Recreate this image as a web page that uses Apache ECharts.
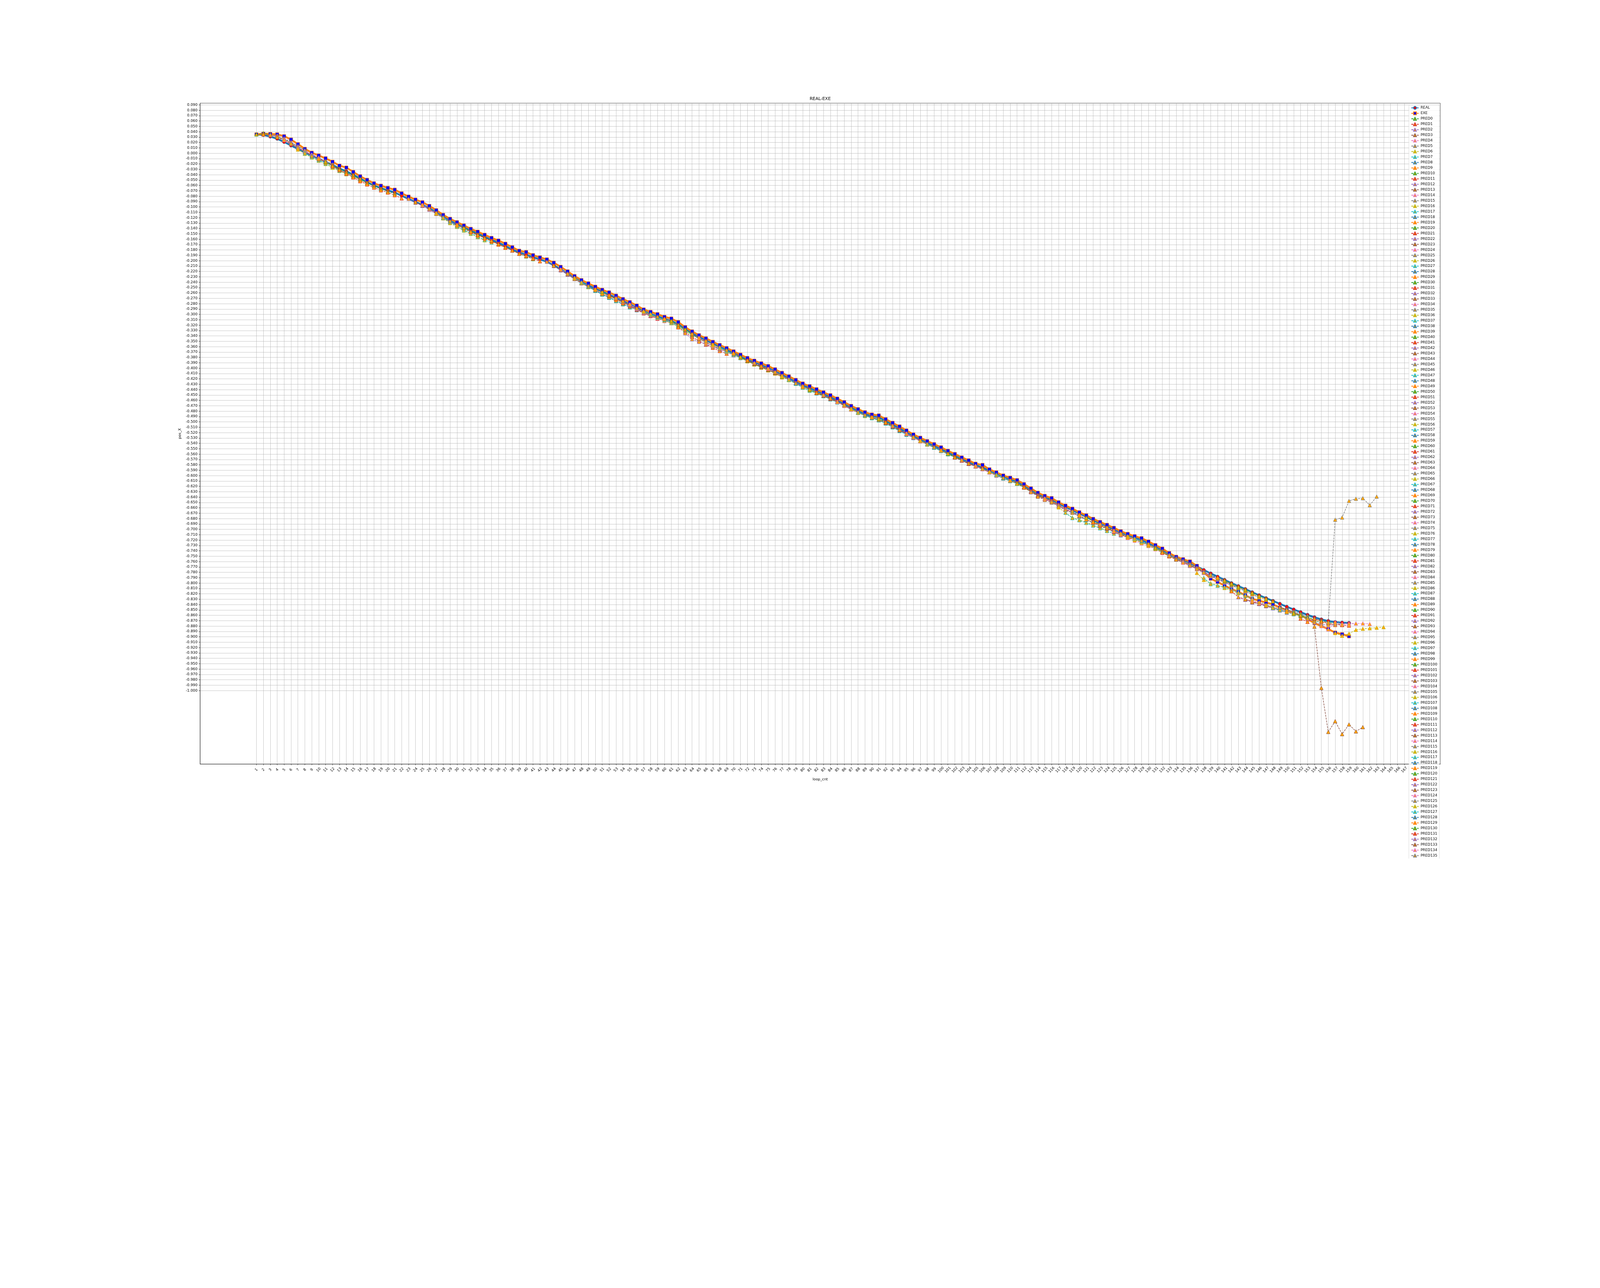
<!DOCTYPE html>
<html>
<head>
<meta charset="utf-8">
<script src="https://cdn.jsdelivr.net/npm/echarts@6/dist/echarts.min.js"></script>
<style>
html, body { margin: 0; padding: 0; background: #fff; overflow: hidden; }
#chart { width: 100vw; }
</style>
</head>
<body>
<div id="chart"></div>
<script>
// loop_cnt runs 1..159 for REAL and EXE
var realY = [
  0.0350, 0.0340, 0.0310, 0.0270, 0.0210, 0.0145, 0.0080, 0.0015, -0.0045, -0.0100,
  -0.0160, -0.0215, -0.0285, -0.0335, -0.0400, -0.0470, -0.0540, -0.0600, -0.0650, -0.0690,
  -0.0730, -0.0790, -0.0850, -0.0905, -0.0960, -0.1025, -0.1100, -0.1180, -0.1255, -0.1320,
  -0.1380, -0.1440, -0.1495, -0.1555, -0.1610, -0.1665, -0.1725, -0.1790, -0.1845, -0.1885,
  -0.1935, -0.1975, -0.2020, -0.2085, -0.2160, -0.2240, -0.2320, -0.2395, -0.2460, -0.2520,
  -0.2575, -0.2630, -0.2690, -0.2750, -0.2810, -0.2875, -0.2940, -0.2990, -0.3035, -0.3080,
  -0.3120, -0.3185, -0.3270, -0.3345, -0.3415, -0.3480, -0.3545, -0.3600, -0.3660, -0.3720,
  -0.3780, -0.3840, -0.3890, -0.3945, -0.3995, -0.4060, -0.4125, -0.4190, -0.4255, -0.4315,
  -0.4370, -0.4425, -0.4480, -0.4540, -0.4600, -0.4670, -0.4735, -0.4795, -0.4850, -0.4890,
  -0.4915, -0.4980, -0.5050, -0.5120, -0.5190, -0.5260, -0.5325, -0.5385, -0.5445, -0.5505,
  -0.5570, -0.5630, -0.5690, -0.5745, -0.5800, -0.5850, -0.5905, -0.5960, -0.6015, -0.6065,
  -0.6115, -0.6190, -0.6265, -0.6340, -0.6400, -0.6450, -0.6520, -0.6585, -0.6640, -0.6705,
  -0.6765, -0.6830, -0.6885, -0.6940, -0.6995, -0.7055, -0.7105, -0.7150, -0.7195, -0.7255,
  -0.7320, -0.7385, -0.7455, -0.7515, -0.7570, -0.7625, -0.7690, -0.7755, -0.7820, -0.7880,
  -0.7940, -0.8000, -0.8055, -0.8110, -0.8170, -0.8225, -0.8280, -0.8330, -0.8385, -0.8440,
  -0.8490, -0.8540, -0.8590, -0.8635, -0.8675, -0.8705, -0.8725, -0.8735, -0.8740
];

var exeY = [
  0.0350, 0.0365, 0.0358, 0.0352, 0.0318, 0.0255, 0.0170, 0.0082, 0.0010, -0.0042,
  -0.0094, -0.0158, -0.0230, -0.0267, -0.0347, -0.0428, -0.0495, -0.0559, -0.0604, -0.0644,
  -0.0678, -0.0745, -0.0807, -0.0861, -0.0911, -0.0980, -0.1059, -0.1146, -0.1220, -0.1282,
  -0.1344, -0.1406, -0.1460, -0.1517, -0.1574, -0.1624, -0.1683, -0.1748, -0.1814, -0.1839,
  -0.1896, -0.1938, -0.1975, -0.2037, -0.2114, -0.2198, -0.2285, -0.2359, -0.2421, -0.2483,
  -0.2540, -0.2589, -0.2649, -0.2713, -0.2771, -0.2833, -0.2908, -0.2952, -0.2994, -0.3044,
  -0.3076, -0.3142, -0.3236, -0.3316, -0.3385, -0.3444, -0.3509, -0.3568, -0.3625, -0.3687,
  -0.3748, -0.3810, -0.3860, -0.3909, -0.3959, -0.4021, -0.4087, -0.4152, -0.4218, -0.4285,
  -0.4335, -0.4392, -0.4448, -0.4503, -0.4565, -0.4631, -0.4701, -0.4762, -0.4819, -0.4861,
  -0.4879, -0.4948, -0.5017, -0.5084, -0.5158, -0.5232, -0.5294, -0.5356, -0.5413, -0.5472,
  -0.5537, -0.5596, -0.5660, -0.5715, -0.5777, -0.5800, -0.5882, -0.5939, -0.5996, -0.6038,
  -0.6082, -0.6156, -0.6236, -0.6317, -0.6376, -0.6416, -0.6495, -0.6557, -0.6614, -0.6681,
  -0.6738, -0.6804, -0.6861, -0.6916, -0.6970, -0.7034, -0.7084, -0.7126, -0.7163, -0.7225,
  -0.7292, -0.7356, -0.7440, -0.7509, -0.7554, -0.7596, -0.7678, -0.7800, -0.7917, -0.7979,
  -0.8045, -0.8110, -0.8162, -0.8225, -0.8292, -0.8325, -0.8360, -0.8395, -0.8455, -0.8500,
  -0.8555, -0.8605, -0.8665, -0.8745, -0.8800, -0.8855, -0.8920, -0.8950, -0.8990
];

// first loop_cnt of each prediction PRED0..PRED136
var predStart = [
  1, 2, 3, 4, 5, 6, 7, 8, 9, 10, 11, 12,
  23, 24, 25, 26, 27, 28, 29, 30, 31, 32,
  43, 44, 45, 46, 47, 48, 49, 50, 51, 52, 53, 54, 55, 56, 57, 58, 59, 60,
  61, 62, 63, 64, 65, 66, 67, 68, 69, 70, 71, 72, 73, 74, 75, 76, 77, 78, 79, 80,
  81, 82, 83, 84, 85, 86, 87, 88, 89, 90, 91, 92, 93, 94, 95, 96, 97, 98, 99, 100,
  101, 102, 103, 104, 105, 106, 107, 108, 109, 110, 111, 112, 113, 114, 115, 116, 117, 118, 119, 120,
  121, 122, 123, 124, 125, 126, 127, 128, 129, 130, 131, 132, 133, 134, 135, 136, 137, 138, 139, 140,
  141, 142, 143, 144, 145, 146, 147, 148, 149, 150, 151, 152, 153, 154, 155, 156, 157
];

var predY = [
  [0.035, 0.0373, 0.035, 0.031, 0.026, 0.020, 0.013, 0.006],
  [0.035, 0.034, 0.030, 0.024, 0.017, 0.010, 0.003, -0.004],
  [0.034, 0.033, 0.028, 0.021, 0.013, 0.005, -0.002, -0.008],
  [0.030, 0.026, 0.019, 0.011, 0.003, -0.004, -0.010, -0.016],
  [0.025, 0.018, 0.011, 0.004, -0.003, -0.009, -0.015, -0.021],
  [0.018, 0.010, 0.002, -0.005, -0.011, -0.017, -0.023, -0.029],
  [0.007, -0.001, -0.008, -0.014, -0.020, -0.027, -0.033, -0.039],
  [0.000, -0.007, -0.013, -0.019, -0.025, -0.032, -0.038, -0.044],
  [-0.005, -0.011, -0.017, -0.023, -0.029, -0.036, -0.042, -0.049],
  [-0.010, -0.017, -0.024, -0.031, -0.037, -0.043, -0.050, -0.057],
  [-0.016, -0.022, -0.029, -0.035, -0.041, -0.048, -0.055, -0.061, -0.066, -0.071, -0.075],
  [-0.024, -0.031, -0.038, -0.045, -0.052, -0.058, -0.064, -0.069, -0.073, -0.078, -0.084],
  [-0.085, -0.092, -0.098, -0.105, -0.113, -0.121, -0.128, -0.135],
  [-0.091, -0.097, -0.104, -0.112, -0.120, -0.128, -0.134, -0.140],
  [-0.096, -0.104, -0.111, -0.119, -0.127, -0.134, -0.140, -0.147],
  [-0.103, -0.111, -0.119, -0.127, -0.134, -0.141, -0.147, -0.153],
  [-0.112, -0.121, -0.130, -0.137, -0.144, -0.150, -0.156, -0.162],
  [-0.120, -0.128, -0.136, -0.143, -0.149, -0.155, -0.161, -0.166],
  [-0.126, -0.133, -0.139, -0.145, -0.151, -0.157, -0.163, -0.169],
  [-0.133, -0.139, -0.146, -0.152, -0.158, -0.164, -0.170, -0.176],
  [-0.139, -0.145, -0.151, -0.157, -0.163, -0.169, -0.175, -0.181, -0.187, -0.192, -0.197],
  [-0.146, -0.152, -0.158, -0.163, -0.169, -0.175, -0.181, -0.187, -0.191, -0.196, -0.201],
  [-0.202, -0.210, -0.218, -0.226, -0.234, -0.242, -0.249, -0.255],
  [-0.209, -0.217, -0.225, -0.234, -0.242, -0.249, -0.256, -0.262],
  [-0.216, -0.224, -0.232, -0.241, -0.248, -0.255, -0.261, -0.267],
  [-0.224, -0.232, -0.240, -0.247, -0.254, -0.260, -0.266, -0.272],
  [-0.232, -0.241, -0.249, -0.256, -0.263, -0.269, -0.275, -0.281],
  [-0.240, -0.248, -0.256, -0.263, -0.269, -0.275, -0.281, -0.287],
  [-0.247, -0.255, -0.262, -0.268, -0.274, -0.280, -0.286, -0.292],
  [-0.253, -0.260, -0.266, -0.272, -0.278, -0.284, -0.290, -0.297],
  [-0.258, -0.265, -0.271, -0.277, -0.284, -0.291, -0.297, -0.303],
  [-0.264, -0.271, -0.278, -0.284, -0.291, -0.298, -0.303, -0.308],
  [-0.269, -0.276, -0.283, -0.290, -0.297, -0.302, -0.307, -0.312],
  [-0.275, -0.282, -0.289, -0.296, -0.302, -0.307, -0.312, -0.316],
  [-0.281, -0.289, -0.296, -0.302, -0.307, -0.312, -0.316, -0.322],
  [-0.288, -0.295, -0.301, -0.306, -0.311, -0.315, -0.321, -0.329],
  [-0.294, -0.300, -0.306, -0.311, -0.316, -0.323, -0.331, -0.339],
  [-0.299, -0.305, -0.310, -0.315, -0.322, -0.330, -0.338, -0.345],
  [-0.304, -0.309, -0.313, -0.320, -0.328, -0.336, -0.343, -0.350],
  [-0.308, -0.313, -0.320, -0.328, -0.337, -0.344, -0.351, -0.358],
  [-0.312, -0.320, -0.328, -0.337, -0.345, -0.352, -0.359, -0.365],
  [-0.324, -0.333, -0.342, -0.349, -0.356, -0.362, -0.368, -0.373],
  [-0.335, -0.346, -0.351, -0.355, -0.360, -0.365, -0.370, -0.376],
  [-0.336, -0.345, -0.352, -0.358, -0.364, -0.369, -0.375, -0.381],
  [-0.343, -0.352, -0.358, -0.363, -0.369, -0.375, -0.381, -0.387],
  [-0.349, -0.356, -0.362, -0.368, -0.374, -0.380, -0.386, -0.392],
  [-0.356, -0.362, -0.369, -0.375, -0.381, -0.387, -0.393, -0.398],
  [-0.361, -0.368, -0.375, -0.381, -0.387, -0.393, -0.398, -0.404],
  [-0.366, -0.373, -0.380, -0.386, -0.392, -0.398, -0.403, -0.409],
  [-0.372, -0.380, -0.387, -0.393, -0.399, -0.404, -0.410, -0.417],
  [-0.379, -0.386, -0.392, -0.398, -0.403, -0.409, -0.416, -0.422],
  [-0.385, -0.391, -0.397, -0.402, -0.408, -0.415, -0.421, -0.428],
  [-0.390, -0.396, -0.401, -0.407, -0.414, -0.420, -0.427, -0.433],
  [-0.396, -0.401, -0.407, -0.414, -0.421, -0.428, -0.434, -0.439],
  [-0.401, -0.407, -0.414, -0.421, -0.428, -0.434, -0.440, -0.445],
  [-0.407, -0.414, -0.421, -0.428, -0.434, -0.440, -0.446, -0.451],
  [-0.415, -0.422, -0.429, -0.436, -0.442, -0.447, -0.452, -0.458],
  [-0.421, -0.429, -0.436, -0.442, -0.447, -0.452, -0.458, -0.464],
  [-0.428, -0.434, -0.440, -0.445, -0.450, -0.456, -0.462, -0.469],
  [-0.434, -0.440, -0.445, -0.450, -0.456, -0.462, -0.469, -0.476],
  [-0.440, -0.446, -0.451, -0.457, -0.463, -0.470, -0.477, -0.483],
  [-0.446, -0.451, -0.457, -0.463, -0.470, -0.477, -0.483, -0.488],
  [-0.450, -0.456, -0.462, -0.469, -0.476, -0.482, -0.487, -0.492],
  [-0.456, -0.462, -0.469, -0.476, -0.482, -0.487, -0.491, -0.495],
  [-0.463, -0.470, -0.477, -0.483, -0.488, -0.492, -0.496, -0.502],
  [-0.468, -0.475, -0.482, -0.487, -0.491, -0.495, -0.501, -0.508],
  [-0.476, -0.483, -0.489, -0.493, -0.497, -0.503, -0.510, -0.517],
  [-0.482, -0.488, -0.493, -0.497, -0.503, -0.510, -0.517, -0.524],
  [-0.487, -0.492, -0.496, -0.502, -0.509, -0.516, -0.523, -0.530],
  [-0.491, -0.495, -0.501, -0.508, -0.515, -0.522, -0.529, -0.536],
  [-0.494, -0.500, -0.507, -0.514, -0.521, -0.528, -0.535, -0.541],
  [-0.501, -0.508, -0.515, -0.522, -0.529, -0.535, -0.541, -0.547],
  [-0.507, -0.514, -0.521, -0.528, -0.535, -0.541, -0.547, -0.553],
  [-0.515, -0.522, -0.529, -0.536, -0.542, -0.548, -0.554, -0.560],
  [-0.522, -0.529, -0.536, -0.542, -0.548, -0.554, -0.560, -0.566],
  [-0.528, -0.535, -0.541, -0.547, -0.553, -0.559, -0.565, -0.571],
  [-0.535, -0.542, -0.548, -0.554, -0.560, -0.566, -0.572, -0.578],
  [-0.541, -0.548, -0.554, -0.560, -0.566, -0.572, -0.578, -0.583],
  [-0.547, -0.553, -0.559, -0.565, -0.571, -0.577, -0.582, -0.587],
  [-0.553, -0.559, -0.565, -0.571, -0.577, -0.582, -0.587, -0.593],
  [-0.559, -0.565, -0.571, -0.577, -0.582, -0.587, -0.593, -0.598],
  [-0.566, -0.572, -0.578, -0.583, -0.588, -0.594, -0.599, -0.605],
  [-0.571, -0.577, -0.582, -0.588, -0.594, -0.599, -0.605, -0.610],
  [-0.577, -0.583, -0.588, -0.594, -0.600, -0.605, -0.610, -0.615],
  [-0.582, -0.588, -0.594, -0.600, -0.605, -0.610, -0.615, -0.622],
  [-0.587, -0.593, -0.598, -0.604, -0.609, -0.614, -0.621, -0.629],
  [-0.593, -0.599, -0.605, -0.610, -0.615, -0.622, -0.630, -0.637],
  [-0.599, -0.605, -0.610, -0.615, -0.622, -0.630, -0.637, -0.643],
  [-0.604, -0.609, -0.614, -0.621, -0.629, -0.636, -0.642, -0.647],
  [-0.609, -0.614, -0.621, -0.629, -0.636, -0.642, -0.647, -0.654],
  [-0.615, -0.622, -0.630, -0.637, -0.643, -0.648, -0.655, -0.662],
  [-0.622, -0.630, -0.637, -0.643, -0.648, -0.655, -0.662, -0.667],
  [-0.631, -0.638, -0.644, -0.649, -0.656, -0.663, -0.668, -0.675],
  [-0.639, -0.645, -0.650, -0.657, -0.664, -0.669, -0.676, -0.682],
  [-0.643, -0.649, -0.656, -0.663, -0.668, -0.675, -0.681, -0.687],
  [-0.649, -0.657, -0.664, -0.669, -0.676, -0.682, -0.688, -0.694],
  [-0.659, -0.669, -0.678, -0.682, -0.687, -0.692, -0.697, -0.702],
  [-0.669, -0.679, -0.683, -0.688, -0.693, -0.698, -0.703, -0.708],
  [-0.666, -0.675, -0.682, -0.688, -0.694, -0.699, -0.705, -0.711],
  [-0.673, -0.681, -0.687, -0.693, -0.698, -0.704, -0.710, -0.715],
  [-0.678, -0.685, -0.691, -0.697, -0.703, -0.709, -0.714, -0.718],
  [-0.686, -0.692, -0.698, -0.704, -0.710, -0.715, -0.719, -0.724],
  [-0.690, -0.696, -0.702, -0.708, -0.713, -0.717, -0.722, -0.728],
  [-0.696, -0.702, -0.708, -0.713, -0.718, -0.723, -0.729, -0.735],
  [-0.703, -0.710, -0.716, -0.721, -0.726, -0.731, -0.737, -0.744],
  [-0.707, -0.713, -0.718, -0.723, -0.729, -0.735, -0.742, -0.749],
  [-0.713, -0.719, -0.724, -0.730, -0.736, -0.743, -0.750, -0.756],
  [-0.717, -0.722, -0.728, -0.734, -0.741, -0.748, -0.754, -0.759],
  [-0.721, -0.727, -0.733, -0.740, -0.747, -0.753, -0.758, -0.764],
  [-0.728, -0.734, -0.741, -0.748, -0.754, -0.759, -0.765, -0.771],
  [-0.735, -0.742, -0.749, -0.755, -0.760, -0.766, -0.772, -0.779],
  [-0.743, -0.750, -0.756, -0.761, -0.767, -0.773, -0.780, -0.786],
  [-0.748, -0.755, -0.760, -0.766, -0.772, -0.779, -0.785, -0.791],
  [-0.756, -0.762, -0.768, -0.774, -0.781, -0.787, -0.793, -0.799],
  [-0.762, -0.768, -0.774, -0.781, -0.787, -0.793, -0.799, -0.805],
  [-0.767, -0.773, -0.780, -0.786, -0.792, -0.798, -0.804, -0.810],
  [-0.781, -0.794, -0.800, -0.804, -0.809, -0.814, -0.819, -0.824],
  [-0.790, -0.802, -0.805, -0.807, -0.812, -0.817, -0.823, -0.829],
  [-0.784, -0.791, -0.797, -0.803, -0.809, -0.815, -0.821, -0.827],
  [-0.790, -0.796, -0.802, -0.808, -0.814, -0.820, -0.826, -0.831],
  [-0.795, -0.801, -0.807, -0.812, -0.818, -0.824, -0.829, -0.834],
  [-0.815, -0.826, -0.830, -0.834, -0.838, -0.842, -0.846, -0.850],
  [-0.826, -0.831, -0.836, -0.839, -0.843, -0.847, -0.851, -0.855],
  [-0.830, -0.835, -0.838, -0.842, -0.846, -0.850, -0.853, -0.857],
  [-0.832, -0.837, -0.841, -0.845, -0.849, -0.852, -0.856, -0.860],
  [-0.835, -0.840, -0.844, -0.848, -0.851, -0.855, -0.859, -0.863],
  [-0.841, -0.846, -0.850, -0.853, -0.857, -0.861, -0.865, -0.869],
  [-0.846, -0.850, -0.854, -0.858, -0.862, -0.866, -0.870, -0.874],
  [-0.845, -0.849, -0.853, -0.857, -0.861, -0.865, -0.869, -0.873],
  [-0.853, -0.857, -0.861, -0.865, -0.869, -0.872, -0.875, -0.878],
  [-0.856, -0.860, -0.864, -0.867, -0.870, -0.873, -0.875, -0.877],
  [-0.866, -0.872, -0.866, -0.871, -0.875, -0.877, -0.878, -0.879],
  [-0.866, -0.873, -0.877, -0.878, -0.877, -0.876, -0.875, -0.875],
  [-0.881, -0.995, -1.077, -1.057, -1.081, -1.063, -1.076, -1.068],
  [-0.880, -0.886, -0.873, -0.876, -0.876, -0.875, -0.875, -0.876],
  [-0.873, -0.682, -0.678, -0.647, -0.643, -0.642, -0.655, -0.639],
  [-0.893, -0.898, -0.894, -0.887, -0.885, -0.884, -0.883, -0.882]
];

// tick labels
var xTicks = [];
for (var i = 1; i <= 167; i++) xTicks.push(i);
var yTicks = [];
for (var j = 0; j <= 109; j++) yTicks.push((9 - j) / 100);

var FONT = 'DejaVu Sans';
var tab10 = ['#1f77b4', '#ff7f0e', '#2ca02c', '#d62728', '#9467bd',
             '#8c564b', '#e377c2', '#7f7f7f', '#bcbd22', '#17becf'];

// layout was measured on the 6144 x 3296 picture; scale it to the real viewport width
var S = window.innerWidth / 6144;
function px(v) { return v * S; }

var dom = document.getElementById('chart');
dom.style.height = Math.round(3296 * S) + 'px';
var chart = echarts.init(dom);

var series = [];
series.push({
    name: 'REAL',
    type: 'line',
    data: realY.map(function (v, i) { return [i + 1, v]; }),
    symbol: 'circle',
    symbolSize: px(13),
    color: tab10[0],
    lineStyle: {color: tab10[0], width: px(7)},
    itemStyle: {color: '#ff0000', borderColor: tab10[0], borderWidth: px(1.5)},
    emphasis: {disabled: true}
});
series.push({
    name: 'EXE',
    type: 'line',
    data: exeY.map(function (v, i) { return [i + 1, v]; }),
    symbol: 'rect',
    symbolSize: px(13),
    color: tab10[1],
    lineStyle: {color: tab10[1], width: px(7)},
    itemStyle: {color: '#0000ff', borderColor: tab10[1], borderWidth: px(1.5)},
    emphasis: {disabled: true}
});
predY.forEach(function (vals, k) {
    var c = tab10[(k + 2) % 10];
    series.push({
        name: 'PRED' + k,
        type: 'line',
        data: vals.map(function (v, n) { return [predStart[k] + n, v]; }),
        symbol: 'triangle',
        symbolSize: px(14),
        color: c,
        lineStyle: {color: c, width: px(2.1), type: [px(7.7), px(3.3)]},
        itemStyle: {color: '#ffa500', borderColor: c, borderWidth: px(1.5)},
        emphasis: {disabled: true}
    });
});

var axisText = {fontFamily: FONT, fontSize: px(13.9), color: '#000'};
var axisLine = {show: true, onZero: false, lineStyle: {color: '#000', width: px(1.1)}};
var gridLine = {show: true, lineStyle: {color: '#b0b0b0', width: px(1.1)}};

var option = {
    animation: false,
    backgroundColor: '#fff',
    title: {
        text: 'REAL-EXE',
        left: px(3149.5),
        top: px(371),
        textAlign: 'center',
        padding: 0,
        textStyle: {fontFamily: FONT, fontSize: px(16.7), fontWeight: 'normal', color: '#000'}
    },
    legend: {
        orient: 'vertical',
        left: px(5410),
        top: px(403),
        height: px(3200),
        padding: [px(4), px(8), px(4), px(8)],
        itemGap: px(6.75),
        itemWidth: px(28),
        itemHeight: px(14),
        backgroundColor: 'rgba(255,255,255,0.8)',
        borderColor: '#cccccc',
        borderWidth: px(1.1),
        borderRadius: px(4),
        textStyle: {fontFamily: FONT, fontSize: px(13.9), color: '#000', lineHeight: px(14)}
    },
    grid: {
        left: px(768.3),
        right: px(613.3),
        top: px(396),
        bottom: px(362.7),
        show: true,
        borderColor: '#000',
        borderWidth: px(1.1),
        outerBoundsMode: 'none'
    },
    xAxis: {
        type: 'value',
        min: -7.15,
        max: 172.2,
        name: 'loop_cnt',
        nameLocation: 'middle',
        nameGap: px(52),
        nameTextStyle: axisText,
        axisLine: axisLine,
        axisTick: {show: true, length: px(4.9), customValues: xTicks, lineStyle: {color: '#000', width: px(1.1)}},
        axisLabel: {
            customValues: xTicks,
            rotate: 45,
            align: 'center',
            verticalAlign: 'middle',
            margin: px(22),
            fontFamily: FONT, fontSize: px(13.9), color: '#000'
        },
        splitLine: gridLine
    },
    yAxis: {
        type: 'value',
        min: -1.1367,
        max: 0.0932,
        name: 'pos_X',
        nameLocation: 'middle',
        nameGap: px(68),
        nameTextStyle: axisText,
        axisLine: axisLine,
        axisTick: {show: true, length: px(4.9), customValues: yTicks, lineStyle: {color: '#000', width: px(1.1)}},
        axisLabel: {
            customValues: yTicks,
            margin: px(10),
            fontFamily: FONT, fontSize: px(13.9), color: '#000',
            formatter: function (v) { return v.toFixed(3); }
        },
        splitLine: gridLine
    },
    series: series
};

chart.setOption(option);
</script>
</body>
</html>
